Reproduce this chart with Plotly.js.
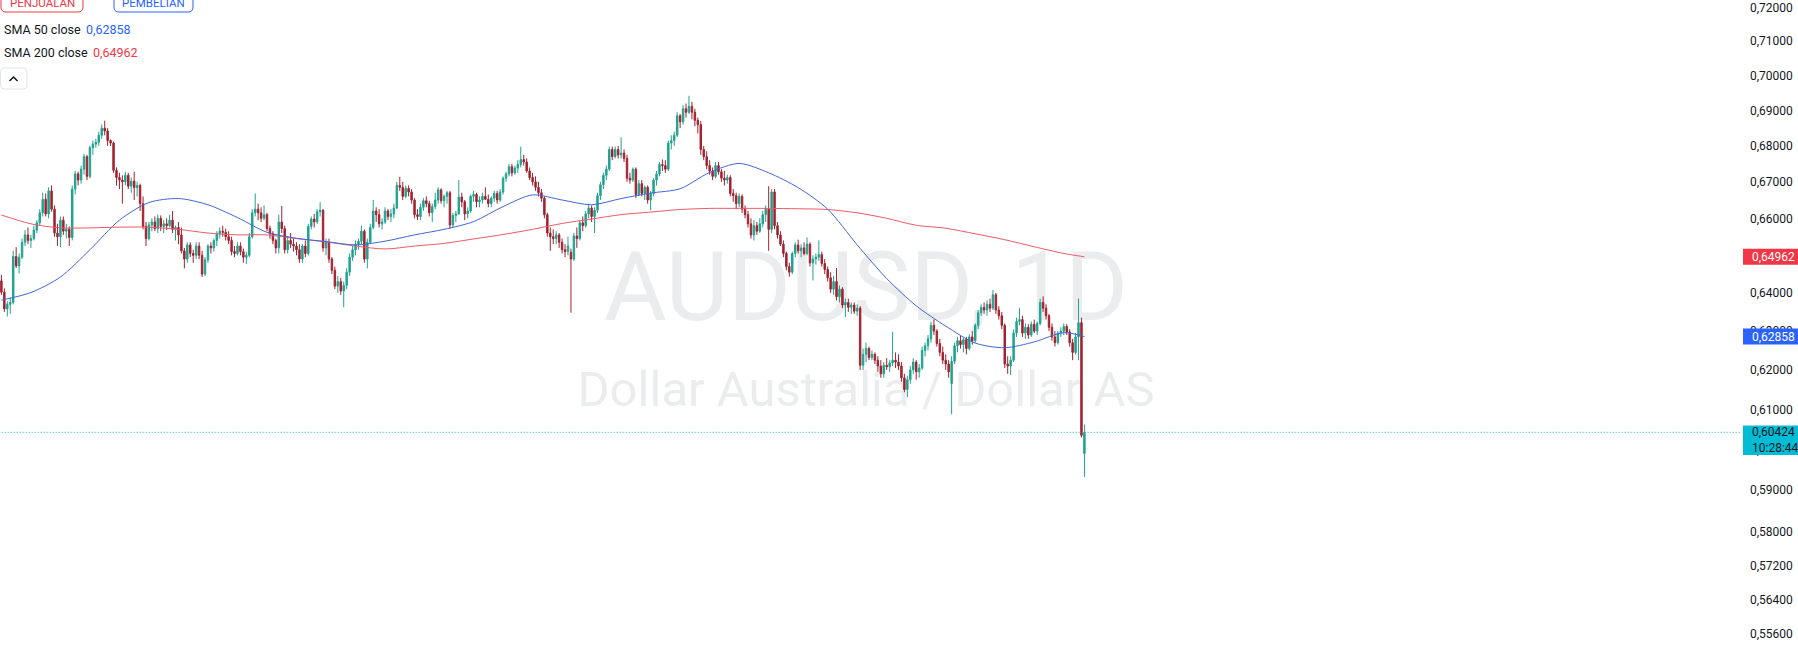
<!DOCTYPE html>
<html><head><meta charset="utf-8">
<script src="https://cdn.plot.ly/plotly-3.0.1.min.js"></script>
<style>html,body{margin:0;padding:0;background:#fff;overflow:hidden}#chart{width:1798px;height:663px}</style>
</head><body><div id="chart"></div>
<script>
// ---- data (AUDUSD daily) ----
const openP = [
.6432,.6402,.6358,.6370,.6375,.6497,.6472,.6495,.6535,.6555,
.6540,.6545,.6568,.6588,.6615,.6652,.6612,.6675,.6625,.6560,
.6550,.6595,.6565,.6570,.6548,.6680,.6722,.6705,.6735,.6770,
.6715,.6795,.6805,.6810,.6830,.6850,.6842,.6815,.6808,.6732,
.6712,.6705,.6700,.6718,.6688,.6702,.6684,.6690,.6640,.6578,
.6545,.6582,.6590,.6572,.6600,.6578,.6585,.6580,.6595,.6570,
.6575,.6555,.6512,.6490,.6528,.6505,.6500,.6525,.6500,.6450,
.6488,.6525,.6520,.6540,.6558,.6565,.6562,.6550,.6540,.6510,
.6505,.6525,.6510,.6495,.6500,.6550,.6615,.6625,.6615,.6600,
.6610,.6572,.6558,.6540,.6520,.6590,.6572,.6515,.6540,.6530,
.6525,.6515,.6490,.6525,.6505,.6578,.6598,.6590,.6618,.6622,
.6520,.6535,.6490,.6460,.6418,.6430,.6405,.6420,.6455,.6495,
.6515,.6530,.6538,.6565,.6490,.6535,.6575,.6620,.6610,.6585,
.6590,.6620,.6605,.6612,.6628,.6690,.6685,.6660,.6682,.6672,
.6650,.6610,.6605,.6630,.6648,.6640,.6615,.6632,.6650,.6678,
.6648,.6660,.6670,.6582,.6608,.6612,.6658,.6645,.6612,.6620,
.6660,.6665,.6645,.6650,.6660,.6652,.6640,.6655,.6668,.6650,
.6672,.6710,.6722,.6742,.6725,.6738,.6748,.6762,.6755,.6730,
.6712,.6700,.6685,.6670,.6655,.6610,.6560,.6550,.6545,.6555,
.6535,.6515,.6510,.6508,.6490,.6552,.6545,.6588,.6580,.6612,
.6628,.6605,.6622,.6662,.6692,.6718,.6735,.6790,.6770,.6790,
.6775,.6780,.6765,.6710,.6705,.6735,.6665,.6695,.6668,.6685,
.6650,.6668,.6705,.6722,.6748,.6745,.6735,.6808,.6815,.6830,
.6885,.6868,.6905,.6895,.6912,.6895,.6872,.6860,.6790,.6770,
.6745,.6730,.6715,.6745,.6728,.6710,.6705,.6712,.6668,.6662,
.6640,.6660,.6625,.6610,.6585,.6555,.6580,.6565,.6585,.6610,
.6625,.6570,.6672,.6580,.6555,.6530,.6505,.6470,.6455,.6505,
.6528,.6512,.6520,.6505,.6530,.6480,.6490,.6495,.6502,.6478,
.6462,.6440,.6410,.6430,.6390,.6410,.6368,.6375,.6362,.6368,
.6352,.6360,.6212,.6240,.6255,.6232,.6240,.6225,.6210,.6190,
.6212,.6208,.6218,.6225,.6220,.6210,.6180,.6150,.6175,.6200,
.6220,.6195,.6205,.6250,.6262,.6280,.6315,.6300,.6268,.6245,
.6225,.6215,.6165,.6222,.6262,.6275,.6265,.6278,.6255,.6285,
.6275,.6315,.6348,.6362,.6355,.6370,.6360,.6395,.6355,.6340,
.6315,.6215,.6210,.6225,.6295,.6325,.6330,.6295,.6310,.6290,
.6318,.6300,.6320,.6375,.6360,.6340,.6310,.6285,.6270,.6295,
.6300,.6312,.6298,.6270,.6245,.6285,.6322,.5990];
const highP = [
.6448,.6412,.6378,.6388,.6512,.6522,.6505,.6545,.6568,.6575,
.6555,.6580,.6595,.6625,.6670,.6668,.6685,.6690,.6635,.6585,
.6605,.6605,.6585,.6578,.6690,.6730,.6728,.6745,.6778,.6775,
.6800,.6815,.6820,.6840,.6860,.6871,.6850,.6818,.6812,.6740,
.6725,.6718,.6728,.6725,.6712,.6728,.6700,.6695,.6660,.6590,
.6590,.6600,.6605,.6610,.6608,.6595,.6600,.6610,.6620,.6580,
.6590,.6575,.6520,.6535,.6535,.6515,.6535,.6535,.6512,.6495,
.6530,.6535,.6545,.6565,.6575,.6580,.6572,.6565,.6550,.6525,
.6535,.6535,.6518,.6510,.6560,.6625,.6668,.6640,.6630,.6635,
.6615,.6580,.6565,.6545,.6610,.6634,.6580,.6550,.6560,.6545,
.6535,.6530,.6530,.6540,.6585,.6605,.6612,.6625,.6644,.6625,
.6545,.6545,.6495,.6470,.6445,.6440,.6430,.6465,.6505,.6525,
.6540,.6545,.6580,.6570,.6545,.6585,.6650,.6630,.6625,.6600,
.6630,.6625,.6625,.6640,.6700,.6714,.6700,.6690,.6690,.6680,
.6655,.6625,.6640,.6655,.6660,.6648,.6640,.6670,.6685,.6682,
.6665,.6675,.6675,.6615,.6620,.6705,.6670,.6650,.6630,.6665,
.6675,.6670,.6660,.6670,.6685,.6665,.6660,.6675,.6675,.6680,
.6715,.6728,.6750,.6750,.6745,.6760,.6798,.6775,.6765,.6740,
.6725,.6715,.6700,.6680,.6660,.6615,.6575,.6570,.6565,.6560,
.6545,.6530,.6550,.6518,.6560,.6575,.6595,.6605,.6620,.6640,
.6635,.6630,.6670,.6700,.6725,.6745,.6798,.6798,.6798,.6800,
.6824,.6790,.6775,.6725,.6740,.6740,.6705,.6705,.6690,.6690,
.6675,.6710,.6730,.6755,.6762,.6760,.6815,.6830,.6840,.6895,
.6890,.6915,.6920,.6942,.6925,.6905,.6880,.6870,.6800,.6785,
.6760,.6740,.6755,.6755,.6735,.6730,.6720,.6718,.6680,.6670,
.6668,.6665,.6635,.6620,.6600,.6595,.6590,.6600,.6620,.6635,
.6688,.6680,.6680,.6590,.6565,.6540,.6510,.6480,.6510,.6535,
.6542,.6530,.6535,.6548,.6535,.6500,.6505,.6540,.6510,.6490,
.6470,.6455,.6445,.6466,.6420,.6415,.6385,.6385,.6375,.6375,
.6370,.6365,.6255,.6270,.6260,.6250,.6245,.6235,.6225,.6220,
.6230,.6225,.6298,.6245,.6240,.6220,.6190,.6185,.6210,.6230,
.6225,.6215,.6260,.6270,.6290,.6324,.6330,.6305,.6280,.6260,
.6240,.6225,.6235,.6270,.6285,.6288,.6282,.6285,.6292,.6300,
.6320,.6355,.6370,.6375,.6380,.6385,.6408,.6400,.6365,.6350,
.6320,.6235,.6235,.6305,.6335,.6360,.6340,.6320,.6318,.6325,
.6330,.6325,.6385,.6391,.6370,.6345,.6320,.6300,.6300,.6310,
.6320,.6318,.6305,.6280,.6295,.6385,.6335,.6062];
const lowP = [
.6395,.6350,.6338,.6345,.6370,.6466,.6452,.6490,.6525,.6530,
.6520,.6540,.6560,.6580,.6605,.6605,.6600,.6618,.6550,.6525,
.6522,.6555,.6545,.6525,.6540,.6665,.6690,.6695,.6720,.6705,
.6710,.6775,.6795,.6800,.6820,.6830,.6800,.6800,.6725,.6690,
.6680,.6640,.6690,.6680,.6670,.6650,.6660,.6620,.6570,.6525,
.6540,.6565,.6565,.6560,.6565,.6560,.6568,.6575,.6560,.6540,
.6530,.6505,.6465,.6480,.6495,.6480,.6490,.6490,.6442,.6445,
.6480,.6505,.6510,.6525,.6545,.6550,.6540,.6530,.6500,.6495,
.6500,.6500,.6480,.6477,.6495,.6545,.6605,.6595,.6590,.6595,
.6565,.6545,.6530,.6505,.6505,.6560,.6505,.6505,.6520,.6510,
.6500,.6480,.6480,.6495,.6500,.6570,.6575,.6585,.6605,.6510,
.6500,.6480,.6450,.6410,.6400,.6395,.6362,.6410,.6445,.6485,
.6500,.6515,.6530,.6480,.6465,.6530,.6570,.6590,.6575,.6570,
.6585,.6595,.6590,.6600,.6625,.6675,.6650,.6655,.6660,.6640,
.6600,.6595,.6595,.6620,.6630,.6605,.6590,.6625,.6640,.6640,
.6630,.6640,.6572,.6575,.6590,.6610,.6630,.6595,.6600,.6615,
.6645,.6630,.6630,.6640,.6650,.6630,.6630,.6645,.6640,.6645,
.6665,.6700,.6715,.6715,.6720,.6725,.6740,.6745,.6725,.6705,
.6690,.6675,.6660,.6645,.6600,.6550,.6512,.6530,.6530,.6520,
.6505,.6495,.6500,.6348,.6485,.6520,.6540,.6565,.6575,.6600,
.6590,.6560,.6615,.6650,.6680,.6705,.6730,.6760,.6765,.6765,
.6765,.6755,.6700,.6695,.6700,.6655,.6660,.6660,.6650,.6640,
.6622,.6660,.6690,.6715,.6730,.6725,.6730,.6790,.6800,.6825,
.6850,.6860,.6880,.6890,.6875,.6855,.6835,.6775,.6760,.6735,
.6720,.6705,.6710,.6720,.6700,.6690,.6695,.6660,.6645,.6625,
.6630,.6615,.6600,.6575,.6545,.6540,.6555,.6560,.6575,.6590,
.6512,.6560,.6570,.6545,.6525,.6495,.6460,.6443,.6450,.6495,
.6505,.6495,.6500,.6500,.6470,.6433,.6475,.6485,.6470,.6450,
.6430,.6400,.6395,.6380,.6375,.6360,.6337,.6350,.6345,.6345,
.6340,.6200,.6200,.6220,.6225,.6225,.6215,.6195,.6180,.6180,
.6200,.6195,.6210,.6205,.6200,.6170,.6143,.6131,.6165,.6190,
.6175,.6180,.6200,.6235,.6250,.6270,.6290,.6260,.6235,.6215,
.6200,.6180,.6088,.6215,.6245,.6255,.6245,.6240,.6250,.6265,
.6270,.6305,.6340,.6345,.6340,.6350,.6355,.6345,.6330,.6305,
.6205,.6190,.6187,.6220,.6285,.6315,.6285,.6280,.6280,.6285,
.6295,.6290,.6315,.6350,.6330,.6300,.6275,.6260,.6265,.6285,
.6290,.6290,.6260,.6225,.6240,.6225,.6030,.5932];
const closeP = [
.6402,.6358,.6370,.6375,.6497,.6472,.6495,.6535,.6555,.6540,
.6545,.6568,.6588,.6615,.6652,.6612,.6675,.6625,.6560,.6550,
.6595,.6565,.6570,.6548,.6680,.6722,.6705,.6735,.6770,.6715,
.6795,.6805,.6810,.6830,.6850,.6842,.6815,.6808,.6732,.6712,
.6705,.6700,.6718,.6688,.6702,.6684,.6690,.6640,.6578,.6545,
.6582,.6590,.6572,.6600,.6578,.6585,.6580,.6595,.6570,.6575,
.6555,.6512,.6490,.6528,.6505,.6500,.6525,.6500,.6450,.6488,
.6525,.6520,.6540,.6558,.6565,.6562,.6550,.6540,.6510,.6505,
.6525,.6510,.6495,.6500,.6550,.6615,.6625,.6615,.6600,.6610,
.6572,.6558,.6540,.6520,.6590,.6572,.6515,.6540,.6530,.6525,
.6515,.6490,.6525,.6505,.6578,.6598,.6590,.6618,.6622,.6520,
.6535,.6490,.6460,.6418,.6430,.6405,.6420,.6455,.6495,.6515,
.6530,.6538,.6565,.6490,.6535,.6575,.6620,.6610,.6585,.6590,
.6620,.6605,.6612,.6628,.6690,.6685,.6660,.6682,.6672,.6650,
.6610,.6605,.6630,.6648,.6640,.6615,.6632,.6650,.6678,.6648,
.6660,.6670,.6582,.6608,.6612,.6658,.6645,.6612,.6620,.6660,
.6665,.6645,.6650,.6660,.6652,.6640,.6655,.6668,.6650,.6672,
.6710,.6722,.6742,.6725,.6738,.6748,.6762,.6755,.6730,.6712,
.6700,.6685,.6670,.6655,.6610,.6560,.6550,.6545,.6555,.6535,
.6515,.6510,.6525,.6490,.6552,.6545,.6588,.6580,.6612,.6628,
.6605,.6622,.6662,.6692,.6718,.6735,.6790,.6770,.6790,.6775,
.6780,.6765,.6710,.6705,.6735,.6665,.6695,.6668,.6685,.6650,
.6668,.6705,.6722,.6748,.6745,.6735,.6808,.6815,.6830,.6885,
.6868,.6905,.6895,.6912,.6895,.6872,.6860,.6790,.6770,.6745,
.6730,.6715,.6745,.6728,.6710,.6705,.6712,.6668,.6662,.6640,
.6660,.6625,.6610,.6585,.6555,.6580,.6565,.6585,.6610,.6625,
.6570,.6672,.6580,.6555,.6530,.6505,.6470,.6455,.6505,.6528,
.6512,.6520,.6505,.6530,.6480,.6490,.6495,.6502,.6478,.6462,
.6440,.6410,.6430,.6390,.6410,.6368,.6375,.6362,.6368,.6352,
.6360,.6212,.6240,.6255,.6232,.6240,.6225,.6210,.6190,.6212,
.6208,.6218,.6225,.6220,.6210,.6180,.6150,.6175,.6200,.6220,
.6195,.6205,.6250,.6262,.6280,.6315,.6300,.6268,.6245,.6225,
.6215,.6195,.6222,.6262,.6275,.6265,.6278,.6255,.6285,.6275,
.6315,.6348,.6362,.6355,.6370,.6360,.6395,.6355,.6340,.6315,
.6215,.6210,.6225,.6295,.6325,.6330,.6295,.6310,.6290,.6318,
.6300,.6320,.6375,.6360,.6340,.6310,.6285,.6270,.6295,.6300,
.6312,.6298,.6270,.6245,.6285,.6322,.6035,.60424];

// moving averages at every 10th bar
const smaIdx = [0,10,20,30,40,50,60,70,80,90,100,110,120,130,140,150,160,170,180,190,200,210,220,230,240,250,260,270,280,290,300,310,320,330,340,350,360,367];
const sma50 = [.6381,.6401,.6442,.6515,.6595,.6643,.6654,.6637,.6602,.6562,.6546,.6537,.6528,.6538,.6555,.6570,.6591,.6632,.6664,.6650,.6637,.6654,.6669,.6681,.6726,.6751,.6725,.6684,.6625,.6528,.6438,.6366,.6313,.6269,.6257,.6272,.6296,.62858];
const sma200 = [.6609,.6585,.6574,.6574,.6576,.6576,.6570,.6560,.6555,.6555,.6545,.6536,.6525,.6517,.6525,.6532,.6544,.6556,.6570,.6586,.6598,.6610,.6617,.6624,.6627,.6627,.6627,.6626,.6624,.6615,.6600,.6581,.6573,.6558,.6542,.6523,.6505,.64962];

const tickVals = [0.72,0.71,0.70,0.69,0.68,0.67,0.66,0.65,0.64,0.63,0.62,0.61,0.60,0.59,0.58,0.572,0.564,0.556];
const tickText = tickVals.map(v => v.toFixed(5).replace('.', ','));
const lastPrice = 0.60424, lastSma50 = 0.62858, lastSma200 = 0.64962;
const countdown = '10:28:44';

// ---- layout helpers ----
const W = 1798, H = 663, PW = 1741, PH = 663;
const X0 = 1.4, STEP = 2.951;                 // bar 0 position / bar spacing (px)
const K = 2425, Y72 = 7.3;                      // log scale: px per ln unit, y of 0.72
const pTop = 0.72 * Math.exp(Y72 / K);
const pBot = 0.72 * Math.exp(-(PH - Y72) / K);
const lTop = Math.log10(pTop), lBot = Math.log10(pBot);
const px = v => v / PW;
const py = v => 1 - v / PH;
const valToPy = v => (1 - (Math.log10(v) - lBot) / (lTop - lBot)) * PH;   // axis mapping, px

const idx = closeP.map((_, i) => i);
const UP = '#1fa390', DOWN = '#a3212f';
const FONT = 'Roboto, "Noto Sans", sans-serif';
const TXT = '#131722';

function rrect(x0, y0, x1, y1, r) {
  const X = v => px(v).toFixed(5), Y = v => py(v).toFixed(5);
  return `M${X(x0 + r)},${Y(y0)} L${X(x1 - r)},${Y(y0)} Q${X(x1)},${Y(y0)} ${X(x1)},${Y(y0 + r)} ` +
         `L${X(x1)},${Y(y1 - r)} Q${X(x1)},${Y(y1)} ${X(x1 - r)},${Y(y1)} L${X(x0 + r)},${Y(y1)} ` +
         `Q${X(x0)},${Y(y1)} ${X(x0)},${Y(y1 - r)} L${X(x0)},${Y(y0 + r)} Q${X(x0)},${Y(y0)} ${X(x0 + r)},${Y(y0)} Z`;
}

const traces = [
  {
    type: 'candlestick', x: idx, open: openP, high: highP, low: lowP, close: closeP,
    increasing: { line: { color: UP, width: 1 }, fillcolor: UP },
    decreasing: { line: { color: DOWN, width: 1 }, fillcolor: DOWN },
    whiskerwidth: 0, hoverinfo: 'skip', showlegend: false
  },
  { type: 'scatter', mode: 'lines', x: smaIdx, y: sma200, line: { color: '#ec5a66', width: 1, shape: 'spline', smoothing: 0.8 }, hoverinfo: 'skip', showlegend: false },
  { type: 'scatter', mode: 'lines', x: smaIdx, y: sma50, line: { color: '#3f66d8', width: 1, shape: 'spline', smoothing: 0.8 }, hoverinfo: 'skip', showlegend: false },
  { type: 'scatter', mode: 'lines', x: [-5, 700], y: [lastPrice, lastPrice], line: { color: '#26b5c6', width: 1, dash: '1px,2px' }, hoverinfo: 'skip', showlegend: false }
];

const shapes = [];
const annotations = [];

// watermark (below the candles)
function wm(text, size, cy) {
  shapes.push({
    type: 'rect', xref: 'paper', yref: 'paper', layer: 'below',
    x0: px(866 - 400), x1: px(866 + 400), y0: py(cy + 50), y1: py(cy - 50),
    line: { width: 0, color: 'rgba(0,0,0,0)' }, fillcolor: 'rgba(0,0,0,0)',
    label: { text: text, textposition: 'middle center', font: { family: FONT, size: size, color: 'rgba(149,152,161,0.19)' } }
  });
}
wm('AUDUSD, 1D', 96, 280);
wm('Dollar Australia / Dollar AS', 49, 385);

// price tags on the axis
function tag(v, bg, fg, text, top, bottom, textCy) {
  const c = valToPy(v);
  shapes.push({ type: 'rect', xref: 'paper', yref: 'paper', layer: 'above',
    x0: px(1743), x1: px(1800), y0: py(c + bottom), y1: py(c - top),
    line: { width: 0, color: bg }, fillcolor: bg });
  annotations.push({ xref: 'paper', yref: 'paper', x: px(1750), y: py(c + textCy), xanchor: 'left', yanchor: 'middle',
    text: text, showarrow: false, align: 'left', font: { family: FONT, size: 12, color: fg } });
}
const fmt = v => v.toFixed(5).replace('.', ',');
tag(lastSma200, '#f23645', '#ffffff', fmt(lastSma200), 8, 8, 0);
tag(lastSma50, '#2962ff', '#ffffff', fmt(lastSma50), 8, 8, 0);
tag(lastPrice, '#00bcd4', TXT, fmt(lastPrice) + '<br>' + countdown, 6.8, 22.6, 7.9);

// partially visible bottom tick label
annotations.push({ xref: 'paper', yref: 'paper', x: px(1750), y: py(669), xanchor: 'left', yanchor: 'middle',
  text: fmt(0.548), showarrow: false, font: { family: FONT, size: 12, color: TXT } });

// top-left buttons and legend
shapes.push({ type: 'path', xref: 'paper', yref: 'paper', path: rrect(1, -12, 83, 12, 5), line: { color: '#f23645', width: 1 }, fillcolor: '#ffffff' });
shapes.push({ type: 'path', xref: 'paper', yref: 'paper', path: rrect(114, -12, 193, 12, 5), line: { color: '#2962ff', width: 1 }, fillcolor: '#ffffff' });
annotations.push({ xref: 'paper', yref: 'paper', x: px(42), y: py(3), xanchor: 'center', yanchor: 'middle', text: 'PENJUALAN', showarrow: false, font: { family: FONT, size: 11.5, color: '#f23645' } });
annotations.push({ xref: 'paper', yref: 'paper', x: px(153.5), y: py(3), xanchor: 'center', yanchor: 'middle', text: 'PEMBELIAN', showarrow: false, font: { family: FONT, size: 11.5, color: '#2962ff' } });

const legendRows = [
  { label: 'SMA 50 close', value: fmt(lastSma50), color: '#2962ff', y: 30, vx: 84 },
  { label: 'SMA 200 close', value: fmt(lastSma200), color: '#f23645', y: 53, vx: 91 }
];
legendRows.forEach(r => {
  annotations.push({ xref: 'paper', yref: 'paper', x: px(2), y: py(r.y), xanchor: 'left', yanchor: 'middle', text: r.label, showarrow: false, font: { family: FONT, size: 12.5, color: TXT } });
  annotations.push({ xref: 'paper', yref: 'paper', x: px(r.vx), y: py(r.y), xanchor: 'left', yanchor: 'middle', text: r.value, showarrow: false, font: { family: FONT, size: 12.5, color: r.color } });
});

shapes.push({ type: 'path', xref: 'paper', yref: 'paper', path: rrect(0.5, 68, 27, 89, 4), line: { color: '#e0e3eb', width: 1 }, fillcolor: '#ffffff' });
shapes.push({ type: 'path', xref: 'paper', yref: 'paper',
  path: `M${px(9.5)},${py(81)} L${px(13.5)},${py(77)} L${px(17.5)},${py(81)}`,
  line: { color: TXT, width: 1.5 } });

const layout = {
  width: W, height: H, autosize: false,
  margin: { l: 0, r: W - PW, t: 0, b: 0, pad: 0 },
  paper_bgcolor: '#ffffff', plot_bgcolor: '#ffffff',
  showlegend: false,
  xaxis: {
    range: [-X0 / STEP, (PW - X0) / STEP], visible: false, showgrid: false, zeroline: false,
    rangeslider: { visible: false }, fixedrange: true
  },
  yaxis: {
    type: 'log', range: [lBot, lTop], side: 'right',
    tickmode: 'array', tickvals: tickVals, ticktext: tickText,
    showgrid: false, zeroline: false, showline: false, ticks: '',
    ticklabelstandoff: 8,
    tickfont: { family: FONT, size: 12, color: TXT }, fixedrange: true
  },
  shapes: shapes,
  annotations: annotations
};

Plotly.newPlot('chart', traces, layout, { staticPlot: true, displayModeBar: false });
</script>
</body></html>
